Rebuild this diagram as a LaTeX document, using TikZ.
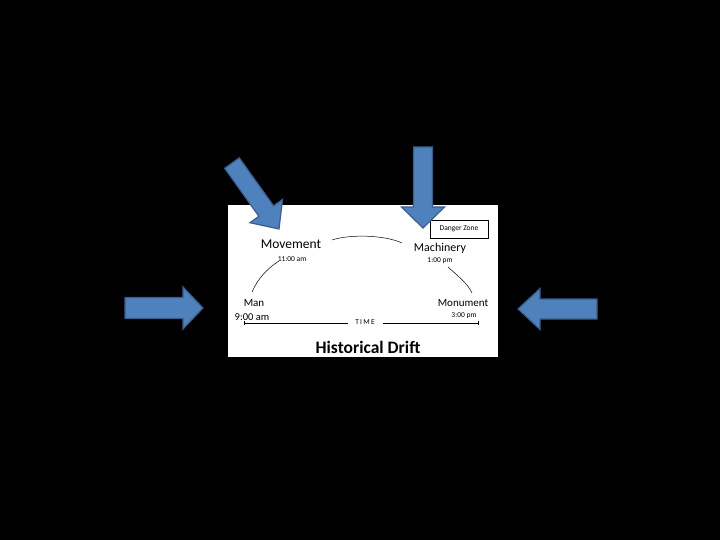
\documentclass[tikz,border=0pt]{standalone}
\usepackage{fontspec}
\setmainfont{Carlito}
\usetikzlibrary{positioning}

\definecolor{arrowfill}{RGB}{79,129,189}
\definecolor{arrowline}{RGB}{56,93,138}

% block arrow pointing along +x, tip at the origin
% #2 length, #3 head length, #4 half head width, #5 half body width
\newcommand{\blockarrow}[5][]{%
  \draw[bigarrow,#1] (0,0) -- (-#3,#4) -- (-#3,#5) -- (-#2,#5) -- (-#2,-#5)
    -- (-#3,-#5) -- (-#3,-#4) -- cycle;}

\begin{document}
\begin{tikzpicture}[x=1pt,y=-1pt,
    bigarrow/.style={fill=arrowfill, draw=arrowline, line width=1.2pt, line join=miter},
    stage/.style={inner sep=1pt},
    hour/.style={inner sep=1pt, font=\fontsize{7.5}{9}\selectfont},
    drift/.style={line width=0.5pt}]
  \useasboundingbox[fill=black] (0,0) rectangle (720,540);
  \fill[white] (228,205) rectangle (498,357);

  % stages of the drift
  \node[stage, font=\fontsize{13.5}{16}\selectfont] (movement) at (291,244) {Movement};
  \node[hour] (movement time) at (292,259) {11:00 am};
  \node[stage, font=\fontsize{12}{14}\selectfont] (machinery) at (440,248) {Machinery};
  \node[hour] (machinery time) at (440,261) {1:00 pm};
  \node[stage, font=\fontsize{11}{13}\selectfont] (man) at (254,303) {Man};
  \node[stage, font=\fontsize{10.5}{12}\selectfont] (man time) at (252,317) {9:00 am};
  \node[stage, font=\fontsize{11}{13}\selectfont] (monument) at (463,303) {Monument};
  \node[hour] (monument time) at (464,316) {3:00 pm};

  \node[draw, inner sep=2pt, minimum width=58pt, minimum height=18pt,
        font=\fontsize{7.5}{9}\selectfont] (danger) at (459,229) {Danger Zone};

  % curve of the drift
  \coordinate (c1) at (252,292);
  \coordinate (c2) at (279,261);
  \coordinate (c3) at (332,240);
  \coordinate (c4) at (402,243);
  \coordinate (c5) at (448,267);
  \coordinate (c6) at (472,293);
  \draw[drift] (c1) .. controls (258,278) and (268,268) .. (c2);
  \draw[drift] (c3) .. controls (350,234) and (385,235) .. (c4);
  \draw[drift] (c5) .. controls (458,276) and (468,284) .. (c6);

  % time axis
  \node[hour, font=\fontsize{7.5}{9}\selectfont] (time) at (365,322) {T\,I\,M\,E};
  \coordinate (t0) at (244,323);
  \coordinate (t1) at (478,323);
  \draw[drift] (t0) -- (348,323);
  \draw[drift] (383,323) -- (t1);
  \draw[drift] (t0) ++(0,-2) -- ++(0,4);
  \draw[drift] (t1) ++(0,-2) -- ++(0,4);

  \node[font=\bfseries\fontsize{17.5}{20}\selectfont] (title) at (368,347) {Historical Drift};

  % pointing arrows
  \begin{scope}[shift={(203,308)}]
    \blockarrow{78}{20}{21}{10.5}
  \end{scope}
  \begin{scope}[shift={(518,309)}, rotate=180]
    \blockarrow{79}{22}{20.5}{10}
  \end{scope}
  \begin{scope}[shift={(423,228)}, rotate=-90]
    \blockarrow{81}{21}{21.5}{9.5}
  \end{scope}
  \begin{scope}[shift={(279,229)}, rotate=-54.5]
    \blockarrow{81}{22}{20}{9}
  \end{scope}
\end{tikzpicture}
\end{document}
